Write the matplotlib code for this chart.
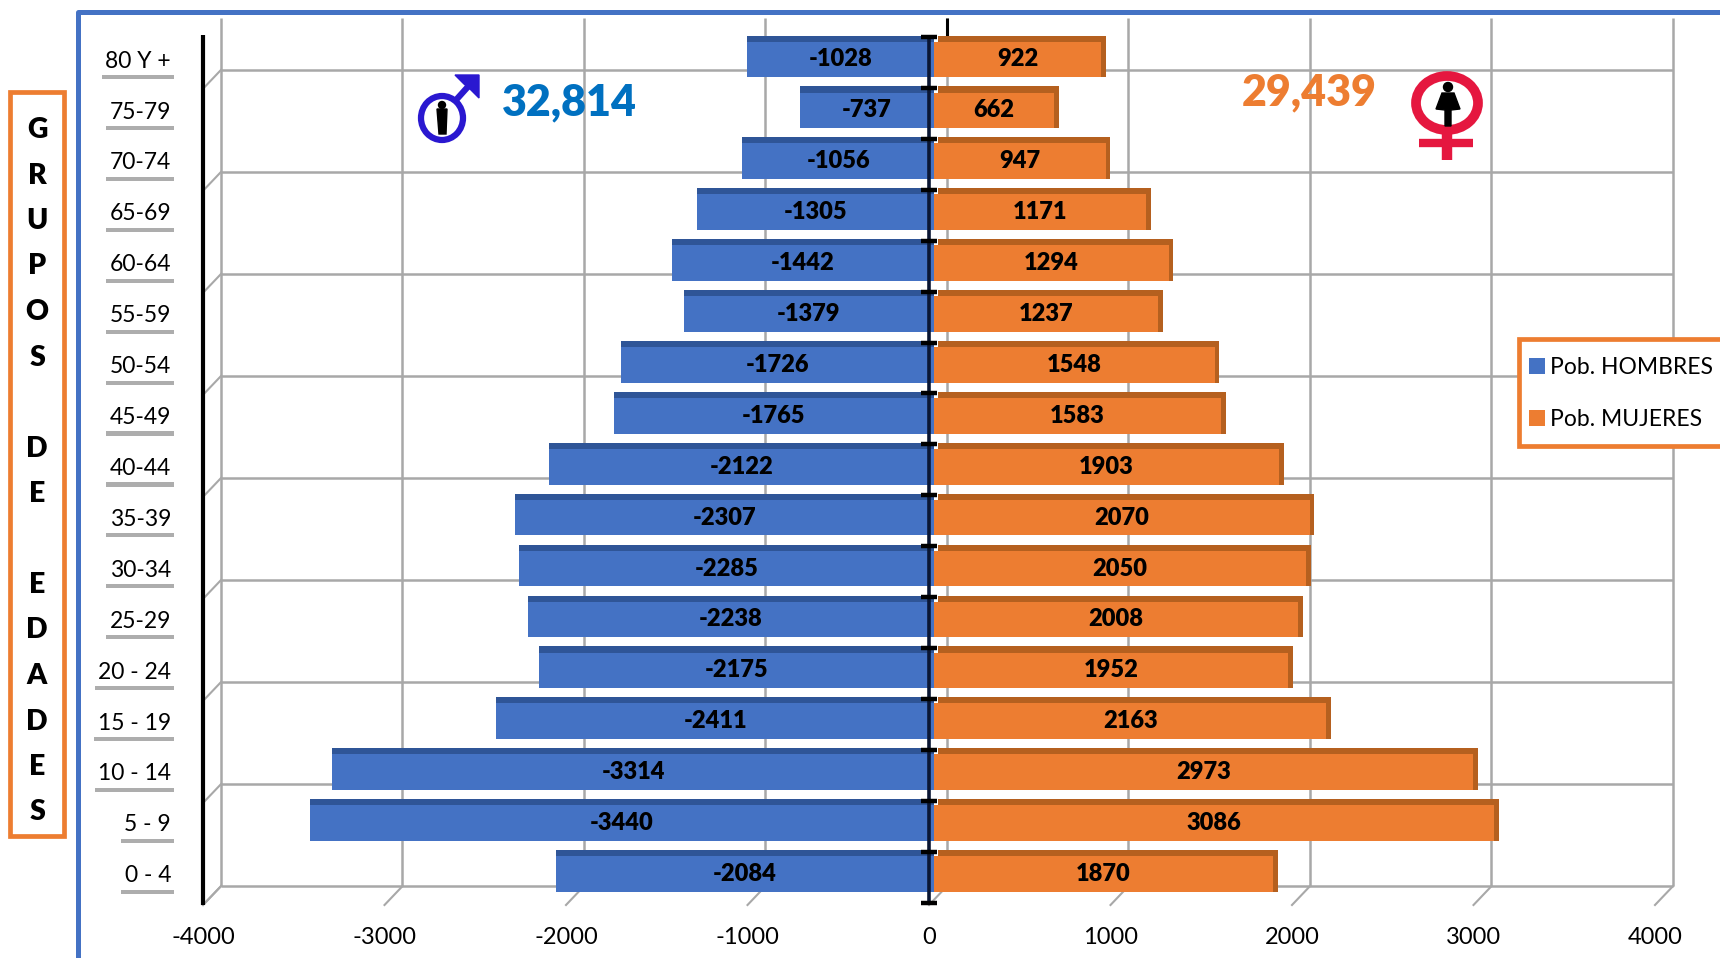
import numpy as np
import matplotlib
matplotlib.use("Agg")
import matplotlib.pyplot as plt
from matplotlib.patches import Circle, Ellipse, Polygon, Rectangle
from matplotlib.transforms import ScaledTranslation
import matplotlib.patheffects as pe

plt.rcParams['font.family'] = ['Lato', 'DejaVu Sans']

grupos = ['0 - 4', '5 - 9', '10 - 14', '15 - 19', '20 - 24', '25-29', '30-34', '35-39', '40-44',
          '45-49', '50-54', '55-59', '60-64', '65-69', '70-74', '75-79', '80 Y +']
hombres = [-2084, -3440, -3314, -2411, -2175, -2238, -2285, -2307, -2122,
           -1765, -1726, -1379, -1442, -1305, -1056, -737, -1028]
mujeres = [1870, 3086, 2973, 2163, 1952, 2008, 2050, 2070, 1903,
           1583, 1548, 1237, 1294, 1171, 947, 662, 922]
xticks = [-4000, -3000, -2000, -1000, 0, 1000, 2000, 3000, 4000]
letras = ['G', 'R', 'U', 'P', 'O', 'S', '', 'D', 'E', '', 'E', 'D', 'A', 'D', 'E', 'S']
total_h = '32,814'
total_m = '29,439'

W, H = 1720, 958
AZUL, AZUL_OSC = '#4472C4', '#2F5597'
NAR, NAR_OSC = '#ED7D31', '#B5601F'
GRIS = '#A8A8A8'

fig = plt.figure(figsize=(W / 100, H / 100), dpi=100)
ax = fig.add_axes([203 / W, 1 - 905 / H, (1655 - 203) / W, (905 - 35) / H])
ax.set_xlim(-4000, 4000)
ax.set_ylim(-0.668, 16.42)
for s in ax.spines.values():
    s.set_visible(False)
ax.patch.set_alpha(0)

# fake 3d: back wall is the front plane shifted by dx, dy
dx, dy = 99, 0.37
y0, y1 = -0.668, 16.42
ytop = 16.76
filas = y0 + dy + 2.004 * np.arange(9)
ax.hlines(filas, -4000 + dx, 4000 + dx, color=GRIS, lw=1.8, zorder=1, clip_on=False)
for x in xticks:
    ax.vlines(x + dx, y0 + dy, ytop, color=GRIS, lw=1.8, zorder=1, clip_on=False)
    ax.plot([x, x + dx], [y0, y0 + dy], color=GRIS, lw=1.5, zorder=1, clip_on=False)
for f in filas:
    ax.plot([-4000, -4000 + dx], [f - dy, f], color=GRIS, lw=1.5, zorder=1, clip_on=False)
ax.vlines(dx, 16.4, ytop, color='black', lw=2.2, zorder=2, clip_on=False)

y = np.arange(len(grupos))
base = 27
ax.barh(y, hombres, left=base, height=0.82, color=AZUL_OSC, zorder=3)
ax.barh(y, mujeres, left=base + 25, height=0.82, color=NAR_OSC, zorder=3)
b1 = ax.barh(y - 0.06, hombres, left=base, height=0.70, color=AZUL, label='Pob. HOMBRES', zorder=4)
b2 = ax.barh(y - 0.06, mujeres, left=base, height=0.70, color=NAR, label='Pob. MUJERES', zorder=4)
ax.bar_label(b1, label_type='center', fontsize=17, fontweight='heavy', zorder=6)
ax.bar_label(b2, label_type='center', fontsize=17, fontweight='heavy', zorder=6)

# axes lines
ax.vlines(-4000, y0, y1, color='black', lw=3, zorder=5, clip_on=False)
ax.vlines(0, y0 + 0.05, y1, color='#0A1633', lw=2.6, zorder=5, clip_on=False)
marcas = -0.62 + np.arange(18)
ax.plot(np.zeros(18), marcas, ls='none', marker='_', ms=11, mew=3.2, color='black', zorder=6, clip_on=False)

ax.set_xticks(xticks)
ax.set_xticklabels([str(v) for v in xticks], fontsize=17)
ax.tick_params(axis='x', length=0, pad=16)
ax.set_yticks(y)
ax.set_yticklabels(grupos, fontsize=16.5)
ax.tick_params(axis='y', length=0, pad=23)
for t in ax.get_yticklabels():
    t.set_transform(t.get_transform() + ScaledTranslation(0, -2 / 72, fig.dpi_scale_trans))
    t.set_bbox(dict(facecolor='white', edgecolor='none', pad=2.5))
    t.get_bbox_patch().set_path_effects([
        pe.withSimplePatchShadow(offset=(0, -3), shadow_rgbFace='#777777', alpha=0.6), pe.Normal()])

# legend frame is separate so that the entries can sit close to its left edge
ax.add_patch(Rectangle((1519 / W, 1 - 446 / H), 205 / W, 107 / H, transform=fig.transFigure,
                       facecolor='white', edgecolor=NAR, lw=3.4, clip_on=False, zorder=9))
leg = ax.legend(handles=[b1, b2], loc='upper left', bbox_to_anchor=(1513 / W, 1 - 341 / H),
                bbox_transform=fig.transFigure, borderaxespad=0, fontsize=16.5, frameon=False,
                handlelength=0.7, handleheight=0.7, handletextpad=0.2, labelspacing=1.35, borderpad=0.7)
leg.set_zorder(10)

# overlay in pixel coordinates for frames, side text and icons
ov = fig.add_axes([0, 0, 1, 1], zorder=5)
ov.set_xlim(0, W)
ov.set_ylim(H, 0)
ov.axis('off')
ov.plot([78, 78, W], [H, 12, 12], color=AZUL, lw=3.6, solid_joinstyle='round')
ov.add_patch(Rectangle((10, 92), 54, 744, fill=False, edgecolor=NAR, lw=3.4))
for i, l in enumerate(letras):
    ov.text(37, 130 + i * 45.5, l, ha='center', va='center', fontsize=20.5, fontweight='heavy')

ov.text(569, 102, total_h, ha='center', va='center', color='#0070C0', fontsize=31, fontweight='heavy')
ov.text(1309, 92, total_m, ha='center', va='center', color=NAR, fontsize=31, fontweight='heavy')

# male sign
AZ = '#2A18D0'
ov.add_patch(Ellipse((442, 118), 42, 44, fill=False, edgecolor=AZ, lw=4.5))
ov.plot([456, 474], [100, 80], color=AZ, lw=4.5)
ov.add_patch(Polygon([[455, 75], [479, 75], [479, 98], [471, 90], [464, 84]], color=AZ))
ov.add_patch(Circle((442, 105), 3.5, color='black'))
ov.add_patch(Polygon([[437, 109], [447, 109], [446, 134], [439, 134]], color='black'))

# female sign
RO = '#E5173F'
ov.add_patch(Ellipse((1447, 103), 62, 54, fill=False, edgecolor=RO, lw=7))
ov.plot([1447, 1447], [131, 160], color=RO, lw=7.5, solid_capstyle='butt')
ov.plot([1419, 1473], [143, 143], color=RO, lw=6, solid_capstyle='butt')
ov.add_patch(Circle((1448, 87), 4.5, color='black'))
ov.add_patch(Polygon([[1442, 93], [1454, 93], [1460, 109], [1451, 110], [1451, 126], [1445, 126],
                      [1445, 110], [1436, 109]], color='black'))

fig.savefig('out.png', dpi=100, facecolor='white')
